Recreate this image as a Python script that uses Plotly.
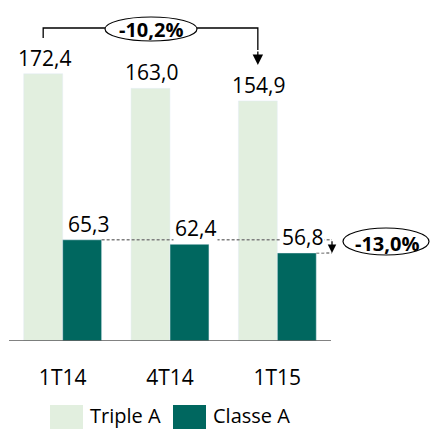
import plotly.graph_objects as go

categories = ["1T14", "4T14", "1T15"]
triple_a = [172.4, 163.0, 154.9]
classe_a = [65.3, 62.4, 56.8]
labels_triple = ["172,4", "163,0", "154,9"]
labels_classe = ["65,3", "62,4", "56,8"]
series_names = ["Triple A", "Classe A"]
var_triple = "-10,2%"
var_classe = "-13,0%"

LIGHT = "#E2EFDF"
DARK = "#00675F"
FONT = "Open Sans"

W, H = 430, 429
X0_PX, STEP_PX = 9, 107.33      # pixel of x=-0.5, pixels per category
BASE_PX, PX_PER_UNIT = 341, 1.55  # pixel of y=0, pixels per unit
BARGAP = 0.274
HALF = (1 - BARGAP) / 2          # width of one bar in category units
OFF = HALF / 2


def dx(px):
    return (px - X0_PX) / STEP_PX - 0.5


def dy(py):
    return (BASE_PX - py) / PX_PER_UNIT


fig = go.Figure()
fig.add_trace(go.Bar(x=categories, y=triple_a, name=series_names[0],
                     marker_color=LIGHT, showlegend=False))
fig.add_trace(go.Bar(x=categories, y=classe_a, name=series_names[1],
                     marker_color=DARK, showlegend=False))

shapes = []
annotations = []

# baseline
shapes.append(dict(type="line", xref="x", yref="y", x0=-0.5, x1=len(categories) - 0.5,
                   y0=0, y1=0, line=dict(color="#595959", width=1.3)))

# value labels
for i, (v, t) in enumerate(zip(triple_a, labels_triple)):
    annotations.append(dict(x=i - OFF, y=v, text=t, showarrow=False, yanchor="bottom",
                            xshift=1, yshift=0, font=dict(family=FONT, size=21, color="#000")))

# dotted reference lines
last = len(categories) - 1
shapes.append(dict(type="line", xref="x", yref="y", x0=0 + 2 * OFF, x1=dx(332),
                   y0=classe_a[0], y1=classe_a[0],
                   line=dict(color="#7F7F7F", width=1.5, dash="3px,2px")))
shapes.append(dict(type="line", xref="x", yref="y", x0=last + 2 * OFF, x1=dx(332),
                   y0=classe_a[last], y1=classe_a[last],
                   line=dict(color="#7F7F7F", width=1.5, dash="3px,2px")))

for i, (v, t) in enumerate(zip(classe_a, labels_classe)):
    annotations.append(dict(x=i + OFF, y=v, text=t, showarrow=False, yanchor="bottom",
                            xshift=6, yshift=0, bgcolor="white" if i > 0 else None,
                            font=dict(family=FONT, size=21, color="#000")))

# top bracket
xl = 0 - OFF
xr = last - OFF
ytop = dy(28)
shapes.append(dict(type="path", xref="x", yref="y",
                   path=f"M {xl},{dy(38)} L {xl},{ytop} L {xr},{ytop} L {xr},{dy(50)}",
                   line=dict(color="#000", width=1.3)))
annotations.append(dict(x=xr, y=dy(65), ax=xr, ay=dy(50), axref="x", ayref="y",
                        xref="x", yref="y", text="", showarrow=True, arrowhead=2,
                        arrowsize=1.6, arrowwidth=1.3, arrowcolor="#000", standoff=0))
shapes.append(dict(type="circle", xref="x", yref="y", x0=dx(105), x1=dx(197),
                   y0=dy(41), y1=dy(17), line=dict(color="#000", width=1.2),
                   fillcolor="white"))
annotations.append(dict(x=dx(151), y=dy(29), text=f"<b>{var_triple}</b>", showarrow=False,
                        font=dict(family=FONT, size=20, color="#000")))

# right arrow + ellipse
annotations.append(dict(x=dx(332), y=classe_a[last], ax=dx(332), ay=classe_a[0],
                        axref="x", ayref="y", xref="x", yref="y", text="", showarrow=True,
                        arrowhead=2, arrowsize=1.3, arrowwidth=1.3, arrowcolor="#000",
                        standoff=0))
shapes.append(dict(type="circle", xref="x", yref="y", x0=dx(343), x1=dx(429),
                   y0=dy(255), y1=dy(228), line=dict(color="#000", width=1.2),
                   fillcolor="white"))
annotations.append(dict(x=dx(387), y=dy(243), text=f"<b>{var_classe}</b>", showarrow=False,
                        font=dict(family=FONT, size=20, color="#000")))

# manual legend
def py2paper(py):
    return (BASE_PX - py) / BASE_PX

legend_items = [(series_names[0], LIGHT, 50), (series_names[1], DARK, 173)]
for name, col, x0 in legend_items:
    shapes.append(dict(type="rect", xref="paper", yref="paper", x0=x0 / W, x1=(x0 + 33) / W,
                       y0=py2paper(445), y1=py2paper(405), fillcolor=col, line=dict(width=0)))
    annotations.append(dict(xref="paper", yref="paper", x=(x0 + 38) / W, y=py2paper(415),
                            xanchor="left", yanchor="middle", text=name, showarrow=False,
                            font=dict(family=FONT, size=20, color="#000")))

fig.update_layout(
    width=W, height=H,
    margin=dict(l=0, r=0, t=0, b=H - BASE_PX),
    paper_bgcolor="white", plot_bgcolor="white",
    barmode="group", bargap=BARGAP, bargroupgap=0,
    shapes=shapes, annotations=annotations,
    xaxis=dict(type="category", range=[dx(0), dx(W)], showgrid=False, showline=False,
               zeroline=False, ticks="", ticklabelstandoff=22,
               tickfont=dict(family=FONT, size=21, color="#000")),
    yaxis=dict(range=[0, BASE_PX / PX_PER_UNIT], visible=False),
)

fig.write_html("out.html")
